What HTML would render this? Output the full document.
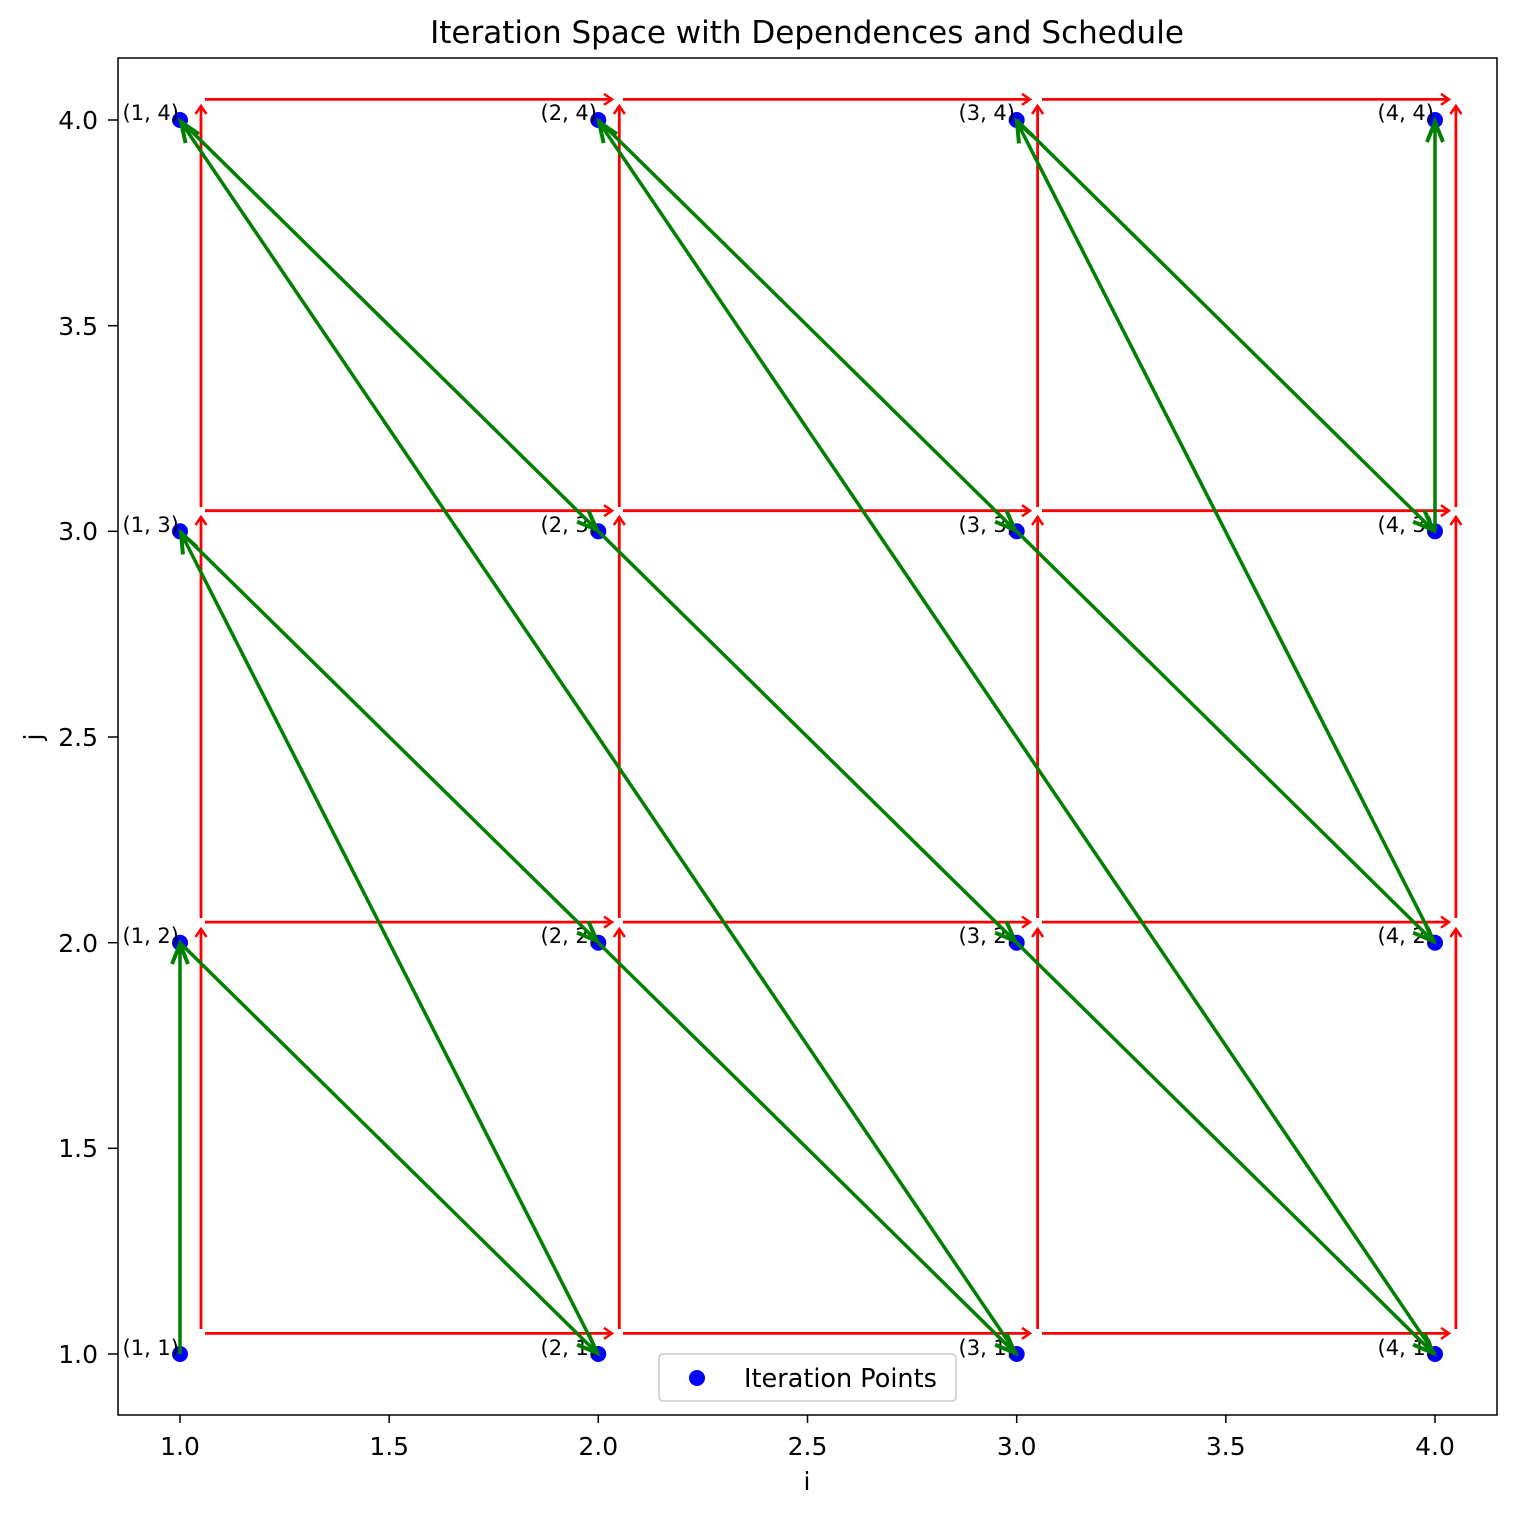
<!DOCTYPE html>
<html><head><meta charset="utf-8"><style>html,body{margin:0;padding:0;background:#fff}</style></head>
<body>
<svg width="1516" height="1516" viewBox="0 0 1516 1516" xmlns="http://www.w3.org/2000/svg" font-family="DejaVu Sans, Liberation Sans, sans-serif">
<defs>
<marker id="rh" markerUnits="userSpaceOnUse" markerWidth="20" markerHeight="20" refX="0" refY="0" viewBox="-12 -10 14 20" orient="auto">
<path d="M-8,-5.5 L0,0 L-8,5.5" fill="none" stroke="#ff0000" stroke-width="2.5"/></marker>
<marker id="gh" markerUnits="userSpaceOnUse" markerWidth="40" markerHeight="40" refX="0" refY="0" viewBox="-25 -20 28 40" orient="auto">
<path d="M-20,-8 L0,0 L-20,8" fill="none" stroke="#008000" stroke-width="4"/></marker>
</defs>
<rect x="118" y="58" width="1379" height="1357" fill="#fff" stroke="#000" stroke-width="1.5"/>
<g fill="#0000ff">
<circle cx="180" cy="1354" r="8"/><circle cx="598.3" cy="1354" r="8"/><circle cx="1016.7" cy="1354" r="8"/><circle cx="1435" cy="1354" r="8"/>
<circle cx="180" cy="942.7" r="8"/><circle cx="598.3" cy="942.7" r="8"/><circle cx="1016.7" cy="942.7" r="8"/><circle cx="1435" cy="942.7" r="8"/>
<circle cx="180" cy="531.3" r="8"/><circle cx="598.3" cy="531.3" r="8"/><circle cx="1016.7" cy="531.3" r="8"/><circle cx="1435" cy="531.3" r="8"/>
<circle cx="180" cy="120" r="8"/><circle cx="598.3" cy="120" r="8"/><circle cx="1016.7" cy="120" r="8"/><circle cx="1435" cy="120" r="8"/>
</g>
<g font-size="21" text-anchor="end" fill="#000">
<text x="179" y="1355">(1, 1)</text><text x="597" y="1355">(2, 1)</text><text x="1015" y="1355">(3, 1)</text><text x="1434" y="1355">(4, 1)</text>
<text x="179" y="943">(1, 2)</text><text x="597" y="943">(2, 2)</text><text x="1015" y="943">(3, 2)</text><text x="1434" y="943">(4, 2)</text>
<text x="179" y="532">(1, 3)</text><text x="597" y="532">(2, 3)</text><text x="1015" y="532">(3, 3)</text><text x="1434" y="532">(4, 3)</text>
<text x="179" y="120">(1, 4)</text><text x="597" y="120">(2, 4)</text><text x="1015" y="120">(3, 4)</text><text x="1434" y="120">(4, 4)</text>
</g>
<g stroke="#ff0000" stroke-width="2.8" marker-end="url(#rh)">
<line x1="205" y1="1333.4" x2="612" y2="1333.4"/><line x1="623" y1="1333.4" x2="1030" y2="1333.4"/><line x1="1042" y1="1333.4" x2="1449" y2="1333.4"/>
<line x1="205" y1="922.1" x2="612" y2="922.1"/><line x1="623" y1="922.1" x2="1030" y2="922.1"/><line x1="1042" y1="922.1" x2="1449" y2="922.1"/>
<line x1="205" y1="510.7" x2="612" y2="510.7"/><line x1="623" y1="510.7" x2="1030" y2="510.7"/><line x1="1042" y1="510.7" x2="1449" y2="510.7"/>
<line x1="205" y1="99.4" x2="612" y2="99.4"/><line x1="623" y1="99.4" x2="1030" y2="99.4"/><line x1="1042" y1="99.4" x2="1449" y2="99.4"/>
<line x1="201" y1="1329" x2="201" y2="929"/><line x1="201" y1="918" x2="201" y2="517"/><line x1="201" y1="507" x2="201" y2="106"/>
<line x1="619.3" y1="1329" x2="619.3" y2="929"/><line x1="619.3" y1="918" x2="619.3" y2="517"/><line x1="619.3" y1="507" x2="619.3" y2="106"/>
<line x1="1037.6" y1="1329" x2="1037.6" y2="929"/><line x1="1037.6" y1="918" x2="1037.6" y2="517"/><line x1="1037.6" y1="507" x2="1037.6" y2="106"/>
<line x1="1455.9" y1="1329" x2="1455.9" y2="929"/><line x1="1455.9" y1="918" x2="1455.9" y2="517"/><line x1="1455.9" y1="507" x2="1455.9" y2="106"/>
</g>
<g stroke="#008000" stroke-width="3.5" marker-end="url(#gh)">
<line x1="180" y1="1354" x2="180" y2="944"/>
<line x1="180" y1="942.7" x2="597" y2="1353"/>
<line x1="598.3" y1="1354" x2="181" y2="533"/>
<line x1="180" y1="531.3" x2="597" y2="941"/>
<line x1="598.3" y1="942.7" x2="1015" y2="1353"/>
<line x1="1016.7" y1="1354" x2="181" y2="122"/>
<line x1="180" y1="120" x2="597" y2="530"/>
<line x1="598.3" y1="531.3" x2="1015" y2="941"/>
<line x1="1016.7" y1="942.7" x2="1433" y2="1353"/>
<line x1="1435" y1="1354" x2="599" y2="122"/>
<line x1="598.3" y1="120" x2="1015" y2="530"/>
<line x1="1016.7" y1="531.3" x2="1433" y2="941"/>
<line x1="1435" y1="942.7" x2="1017" y2="122"/>
<line x1="1016.7" y1="120" x2="1433" y2="530"/>
<line x1="1435" y1="531.3" x2="1435" y2="122"/>
</g>
<g stroke="#000" stroke-width="1.5">
<line x1="180" y1="1415" x2="180" y2="1423"/><line x1="389.2" y1="1415" x2="389.2" y2="1423"/><line x1="598.3" y1="1415" x2="598.3" y2="1423"/><line x1="807.5" y1="1415" x2="807.5" y2="1423"/><line x1="1016.7" y1="1415" x2="1016.7" y2="1423"/><line x1="1225.8" y1="1415" x2="1225.8" y2="1423"/><line x1="1435" y1="1415" x2="1435" y2="1423"/>
<line x1="108" y1="1354" x2="118" y2="1354"/><line x1="108" y1="1148.3" x2="118" y2="1148.3"/><line x1="108" y1="942.7" x2="118" y2="942.7"/><line x1="108" y1="737" x2="118" y2="737"/><line x1="108" y1="531.3" x2="118" y2="531.3"/><line x1="108" y1="325.7" x2="118" y2="325.7"/><line x1="108" y1="120" x2="118" y2="120"/>
</g>
<g font-size="25" text-anchor="middle" fill="#000">
<text x="180" y="1455">1.0</text><text x="389.2" y="1455">1.5</text><text x="598.3" y="1455">2.0</text><text x="807.5" y="1455">2.5</text><text x="1016.7" y="1455">3.0</text><text x="1225.8" y="1455">3.5</text><text x="1435" y="1455">4.0</text>
</g>
<g font-size="25" text-anchor="end" fill="#000">
<text x="98" y="1363">1.0</text><text x="98" y="1157">1.5</text><text x="98" y="952">2.0</text><text x="98" y="746">2.5</text><text x="98" y="540">3.0</text><text x="98" y="335">3.5</text><text x="98" y="129">4.0</text>
</g>
<text x="807" y="1490" font-size="25" text-anchor="middle">i</text>
<text x="0" y="0" font-size="25" text-anchor="middle" transform="translate(42,737) rotate(-90)">j</text>
<text x="807" y="43" font-size="31" text-anchor="middle">Iteration Space with Dependences and Schedule</text>
<rect x="659" y="1354" width="297" height="47" rx="4" fill="#fff" fill-opacity="0.8" stroke="#ccc" stroke-width="1.5"/>
<circle cx="697" cy="1378" r="8" fill="#0000ff"/>
<text x="744" y="1387" font-size="25.5">Iteration Points</text>
</svg>
</body></html>
